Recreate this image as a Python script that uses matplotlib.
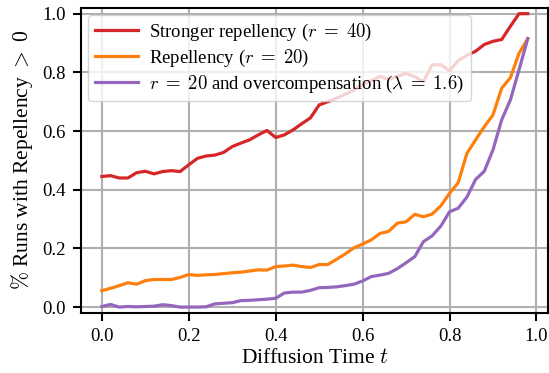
import numpy as np
import matplotlib
matplotlib.use("Agg")
import matplotlib.pyplot as plt

plt.rcParams['font.family'] = ['Liberation Serif', 'DejaVu Serif']
plt.rcParams['mathtext.fontset'] = 'cm'

t = [round(0.02 * i, 2) for i in range(50)]

stronger = [0.445, 0.448, 0.440, 0.440, 0.458, 0.463, 0.454, 0.462, 0.465, 0.462,
            0.485, 0.507, 0.515, 0.518, 0.527, 0.547, 0.559, 0.570, 0.587, 0.602,
            0.578, 0.587, 0.604, 0.625, 0.645, 0.689, 0.700, 0.712, 0.725, 0.740,
            0.758, 0.772, 0.786, 0.776, 0.786, 0.797, 0.785, 0.769, 0.826, 0.826,
            0.806, 0.840, 0.858, 0.872, 0.895, 0.906, 0.912, 0.957, 1.000, 1.000]

repel = [0.056, 0.064, 0.073, 0.083, 0.078, 0.090, 0.094, 0.094, 0.094, 0.101,
         0.111, 0.108, 0.110, 0.111, 0.114, 0.117, 0.119, 0.123, 0.127, 0.126,
         0.138, 0.140, 0.143, 0.138, 0.135, 0.145, 0.145, 0.163, 0.181, 0.202,
         0.215, 0.229, 0.251, 0.258, 0.286, 0.291, 0.316, 0.308, 0.317, 0.345,
         0.388, 0.424, 0.524, 0.570, 0.615, 0.655, 0.746, 0.782, 0.865, 0.915]

overcomp = [0.002, 0.009, 0.000, 0.002, 0.001, 0.002, 0.003, 0.008, 0.005, 0.000,
            0.000, 0.000, 0.001, 0.011, 0.013, 0.015, 0.022, 0.023, 0.025, 0.027,
            0.030, 0.048, 0.051, 0.051, 0.057, 0.066, 0.067, 0.069, 0.073, 0.078,
            0.089, 0.104, 0.109, 0.115, 0.131, 0.151, 0.172, 0.223, 0.243, 0.276,
            0.325, 0.337, 0.375, 0.435, 0.463, 0.536, 0.638, 0.706, 0.809, 0.915]

labels = [r"Stronger repellency ($r\;=\;40$)",
          r"Repellency ($r\;=\;20$)",
          r"$r\;=\;20$ and overcompensation ($\lambda\;=\;1.6$)"]
colors = ["#d62728", "#ff7f0e", "#9467bd"]

fig = plt.figure(figsize=(5.49, 3.73), dpi=100)
ax = fig.add_axes([0.1475, 0.161, 0.851, 0.818])

for ys, lab, c in zip([stronger, repel, overcomp], labels, colors):
    ax.plot(t, ys, color=c, lw=2.3, label=lab)

ax.set_xlim(-0.048, 1.027)
ax.set_ylim(-0.02, 1.02)
ax.set_xticks([0.0, 0.2, 0.4, 0.6, 0.8, 1.0])
ax.set_yticks([0.0, 0.2, 0.4, 0.6, 0.8, 1.0])
ax.set_xticklabels(["0.0", "0.2", "0.4", "0.6", "0.8", "1.0"])
ax.set_yticklabels(["0.0", "0.2", "0.4", "0.6", "0.8", "1.0"])
ax.grid(True, color="#b0b0b0", lw=1.5)
ax.set_axisbelow(True)
for s in ax.spines.values():
    s.set_color("black")
    s.set_linewidth(1.5)
ax.tick_params(direction="out", length=6, width=1.5, labelsize=13.5, colors="black", pad=5)

ax.set_xlabel(r"Diffusion Time $t$", fontsize=15.5, labelpad=3)
ax.set_ylabel(r"$\%$ Runs with Repellency $>\;0$", fontsize=15.5, labelpad=5)

leg = ax.legend(loc="upper left", fontsize=13.5, framealpha=0.8, edgecolor="#cccccc",
                fancybox=True, handlelength=2.3, handletextpad=0.6, borderpad=0.35,
                labelspacing=0.25, borderaxespad=0.4)

fig.savefig("out.png", dpi=100)
